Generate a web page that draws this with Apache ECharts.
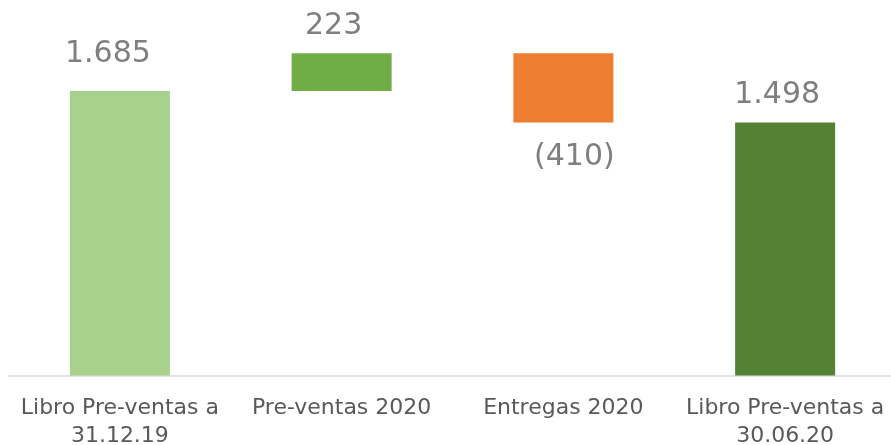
<!DOCTYPE html>
<html>
<head>
<meta charset="utf-8">
<script src="https://cdn.jsdelivr.net/npm/echarts@6/dist/echarts.min.js"></script>
<style>
  html, body { margin: 0; padding: 0; background: #fff; }
  #chart { width: 891px; height: 445px; }
</style>
</head>
<body>
<div id="chart"></div>
<script>
  // categories and values
  const categories = ['Libro Pre-ventas a\n31.12.19', 'Pre-ventas 2020', 'Entregas 2020', 'Libro Pre-ventas a\n30.06.20'];
  const changes = [1685, 223, -410, 1498];
  const isTotal = [true, false, false, true];
  const barColors = ['#a9d18e', '#70ad47', '#ed7d31', '#548235'];

  // waterfall: invisible base + visible bar
  let running = 0;
  const base = [];
  const heights = [];
  changes.forEach(function (v, i) {
    if (isTotal[i]) {
      base.push(0);
      heights.push(v);
      running = v;
    } else if (v >= 0) {
      base.push(running);
      heights.push(v);
      running += v;
    } else {
      running += v;
      base.push(running);
      heights.push(-v);
    }
  });

  function fmt(v) {
    let s = Math.abs(v).toString().replace(/\B(?=(\d{3})+(?!\d))/g, '.');
    return v < 0 ? '(' + s + ')' : s;
  }

  const labelPos = ['top', 'top', 'bottom', 'top'];
  const labelDist = [22, 12, 20, 12];
  const labelOff = [[-12, 0], [-8, 0], [11, 0], [-8, 0]];

  let chart = echarts.init(document.getElementById('chart'));
  let option = {
    backgroundColor: '#fff',
    animation: false,
    grid: { left: 9, top: 4, width: 887, bottom: 69.5, outerBoundsMode: 'none' },
    xAxis: {
      type: 'category',
      data: categories,
      axisLine: { lineStyle: { color: '#d9d9d9', width: 1.5 } },
      axisTick: { show: false },
      axisLabel: {
        color: '#595959',
        fontFamily: 'DejaVu Sans',
        fontSize: 22,
        lineHeight: 28,
        margin: 19,
        interval: 0
      }
    },
    yAxis: {
      type: 'value',
      min: 0,
      max: 2200,
      show: false,
      splitLine: { show: false }
    },
    series: [
      {
        type: 'bar',
        stack: 'w',
        data: base,
        barWidth: 100,
        itemStyle: { color: 'transparent' },
        silent: true
      },
      {
        type: 'bar',
        stack: 'w',
        barWidth: 100,
        data: heights.map(function (h, i) {
          return {
            value: h,
            itemStyle: { color: barColors[i] },
            label: {
              show: true,
              position: labelPos[i],
              distance: labelDist[i],
              offset: labelOff[i],
              formatter: fmt(changes[i]),
              color: '#7f7f7f',
              fontFamily: 'DejaVu Sans',
              fontSize: 30
            }
          };
        })
      }
    ]
  };
  chart.setOption(option);
  window.addEventListener('resize', function () {
    chart.resize();
  });
</script>
</body>
</html>
